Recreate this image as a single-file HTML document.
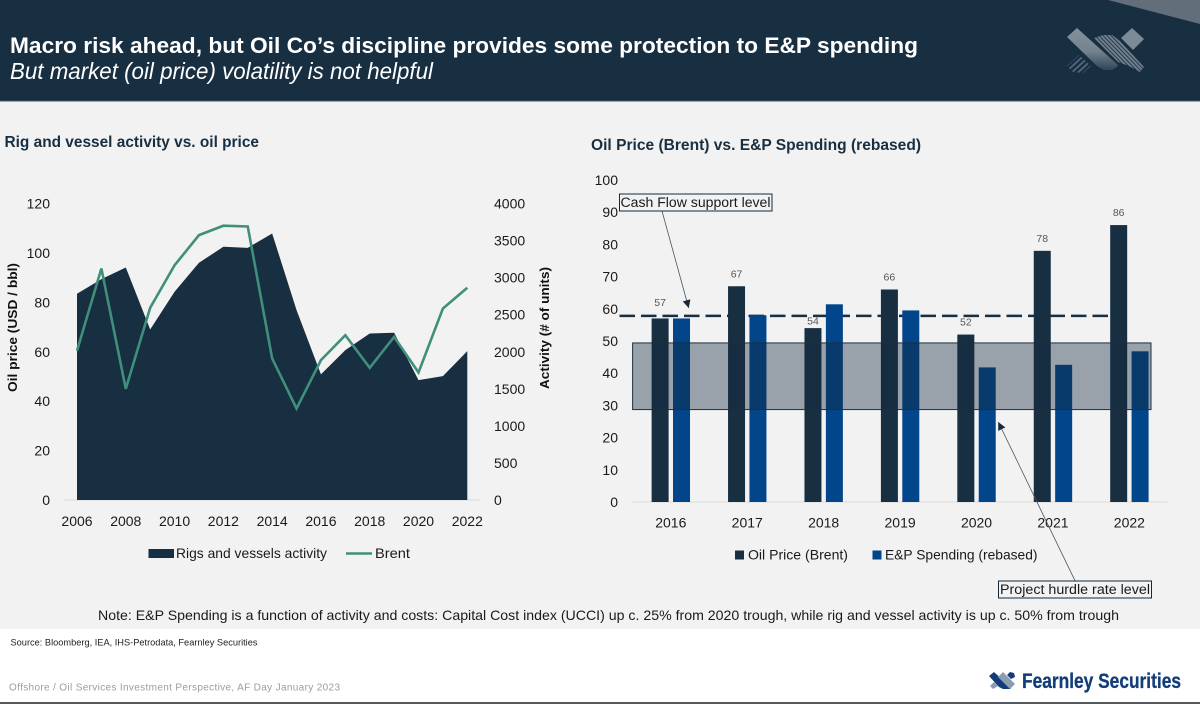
<!DOCTYPE html>
<html lang="en">
<head>
<meta charset="utf-8">
<title>Macro risk ahead</title>
<style>
html,body{margin:0;padding:0;background:#f2f2f2}
body{width:1200px;height:704px;overflow:hidden}
svg{display:block}
text{font-family:"Liberation Sans",sans-serif}
</style>
</head>
<body>
<svg id="slide" xmlns="http://www.w3.org/2000/svg" width="1200" height="704" viewBox="0 0 1200 704">
  <defs>
    <linearGradient id="logoFade" x1="0" y1="0" x2="0" y2="1">
      <stop offset="0" stop-color="#84919c"/>
      <stop offset="0.55" stop-color="#74838f"/>
      <stop offset="1" stop-color="#2f4656"/>
    </linearGradient>
    <marker id="arrowHead" markerWidth="9" markerHeight="9" refX="8" refY="4" orient="auto" markerUnits="userSpaceOnUse">
      <path d="M0,0 L8,4 L0,8 Z" fill="#15293a"/>
    </marker>
    <clipPath id="stripeClip">
      <polygon points="1094,38 1103,35 1112,35 1120,41 1144,67 1140,72 1129,66 1118,62"/>
    </clipPath>
    <clipPath id="lowerStripeClip">
      <polygon points="1067,66 1079,55 1091,66 1083,73 1073,72"/>
    </clipPath>
  </defs>

  <rect x="0" y="0" width="1200" height="704" fill="#f2f2f2"/>
  <rect x="0" y="0" width="1200" height="101" fill="#182e41"/>
  <rect x="0" y="100.5" width="1200" height="1" fill="#4a5864"/>
  <polygon points="1108,0 1200,0 1200,24" fill="#626e7a"/>

  <g>
    <g clip-path="url(#stripeClip)" stroke="#6f7e8a" stroke-width="2.1" fill="none">
      <line x1="1080" y1="22" x2="1132" y2="76"/>
      <line x1="1084" y1="22" x2="1136" y2="76"/>
      <line x1="1088" y1="22" x2="1140" y2="76"/>
      <line x1="1092" y1="22" x2="1144" y2="76"/>
      <line x1="1096" y1="22" x2="1148" y2="76"/>
      <line x1="1100" y1="22" x2="1152" y2="76"/>
      <line x1="1104" y1="22" x2="1156" y2="76"/>
      <line x1="1108" y1="22" x2="1160" y2="76"/>
    </g>
    <polygon points="1077,28 1067,37 1097,66 1104,70 1112,70 1117,67 1118,65" fill="url(#logoFade)"/>
    <polygon points="1132,28 1144,39 1133,50 1121,38" fill="#7c8a96"/>
    <g clip-path="url(#lowerStripeClip)" stroke="#56697a" stroke-width="1.8" fill="none">
      <line x1="1060" y1="66" x2="1084" y2="44"/>
      <line x1="1063" y1="69" x2="1087" y2="47"/>
      <line x1="1066" y1="72" x2="1090" y2="50"/>
      <line x1="1069" y1="75" x2="1093" y2="53"/>
      <line x1="1072" y1="78" x2="1096" y2="56"/>
      <line x1="1075" y1="81" x2="1099" y2="59"/>
    </g>
  </g>

  <text x="10" y="53" font-size="22" font-weight="700" fill="#ffffff" textLength="908" lengthAdjust="spacingAndGlyphs">Macro risk ahead, but Oil Co’s discipline provides some protection to E&amp;P spending</text>
  <text x="10" y="79" font-size="23" font-style="italic" fill="#ffffff" textLength="423" lengthAdjust="spacingAndGlyphs">But market (oil price) volatility is not helpful</text>

  <text x="4.5" y="147" font-size="16" font-weight="700" fill="#182e41" textLength="254.5" lengthAdjust="spacingAndGlyphs">Rig and vessel activity vs. oil price</text>
  <text x="591" y="150" font-size="16" font-weight="700" fill="#182e41" textLength="330" lengthAdjust="spacingAndGlyphs">Oil Price (Brent) vs. E&amp;P Spending (rebased)</text>

  <g id="left-chart"></g>
  <g id="right-chart"></g>

  <text transform="translate(17,392) rotate(-90)" font-size="12.5" font-weight="700" fill="#111" textLength="129" lengthAdjust="spacingAndGlyphs">Oil price (USD / bbl)</text>
  <text transform="translate(549,389) rotate(-90)" font-size="12.5" font-weight="700" fill="#111" textLength="122" lengthAdjust="spacingAndGlyphs">Activity (# of units)</text>

  <g>
    <rect x="148.5" y="549" width="25.5" height="9" fill="#182e41"/>
    <text x="176" y="558" font-size="14" fill="#1a1a1a" textLength="151" lengthAdjust="spacingAndGlyphs">Rigs and vessels activity</text>
    <line x1="346" y1="553.5" x2="372" y2="553.5" stroke="#3f8f7b" stroke-width="2.5"/>
    <text x="375" y="558" font-size="14" fill="#1a1a1a" textLength="35" lengthAdjust="spacingAndGlyphs">Brent</text>
  </g>

  <g>
    <rect x="735" y="550.5" width="9" height="9" fill="#182e41"/>
    <text x="748" y="559.5" font-size="14" fill="#1a1a1a" textLength="100" lengthAdjust="spacingAndGlyphs">Oil Price (Brent)</text>
    <rect x="872.5" y="550.5" width="9" height="9" fill="#03458b"/>
    <text x="885" y="559.5" font-size="14" fill="#1a1a1a" textLength="152.5" lengthAdjust="spacingAndGlyphs">E&amp;P Spending (rebased)</text>
  </g>

  <line x1="662" y1="211" x2="688.7" y2="308" stroke="#4a5560" stroke-width="0.8" marker-end="url(#arrowHead)"/>
  <rect x="619.5" y="194" width="152.5" height="17" fill="#f2f2f2" stroke="#15293a" stroke-width="1"/>
  <text x="620.5" y="207" font-size="13.5" fill="#1a1a1a" textLength="150" lengthAdjust="spacingAndGlyphs">Cash Flow support level</text>

  <line x1="1075" y1="580.7" x2="998.3" y2="422" stroke="#4a5560" stroke-width="0.8" marker-end="url(#arrowHead)"/>
  <rect x="998.5" y="581" width="153" height="17" fill="#f2f2f2" stroke="#15293a" stroke-width="1"/>
  <text x="1000" y="594" font-size="13.5" fill="#1a1a1a" textLength="150" lengthAdjust="spacingAndGlyphs">Project hurdle rate level</text>

  <text x="98" y="620" font-size="14" fill="#1a1a1a" textLength="1021" lengthAdjust="spacingAndGlyphs">Note: E&amp;P Spending is a function of activity and costs: Capital Cost index (UCCI) up c. 25% from 2020 trough, while rig and vessel activity is up c. 50% from trough</text>

  <rect x="0" y="629" width="1200" height="75" fill="#ffffff"/>
  <text x="10.5" y="645.5" font-size="9.5" fill="#222" textLength="247" lengthAdjust="spacingAndGlyphs">Source: Bloomberg, IEA, IHS-Petrodata, Fearnley Securities</text>
  <text x="9" y="690.5" font-size="10" fill="#9c9c9c" textLength="331" lengthAdjust="spacing">Offshore / Oil Services Investment Perspective, AF Day January 2023</text>

  <g>
    <polygon points="989,676 994,672 1006,683 1011,689 1003,689 999,687" fill="#123d79"/>
    <polygon points="1003,672 1015,684 1010,689 998,677" fill="#8b9db0"/>
    <polygon points="1010,672 1014,673 1015,677 1011,679 1007,675" fill="#123d79"/>
    <polygon points="990,686 994,682 998,686 993,689" fill="#8b9db0"/>
    <text x="1022" y="688" font-size="21" font-weight="700" fill="#123d79" stroke="#123d79" stroke-width="0.3" textLength="159" lengthAdjust="spacingAndGlyphs">Fearnley Securities</text>
  </g>
  <rect x="0" y="702" width="1200" height="2" fill="#555a5f"/>
</svg>

<script>
var years = [2006,2007,2008,2009,2010,2011,2012,2013,2014,2015,2016,2017,2018,2019,2020,2021,2022];
var activityUnits = [2782,2980,3137,2301,2809,3200,3416,3402,3596,2562,1694,2022,2247,2256,1618,1672,2009];
var brentPrice = [60.4,93.7,45,77.8,95,107.2,111,110.7,57.3,37,56.6,66.7,53.5,66,51.6,77.5,85.9];
var leftPriceTicks = [0,20,40,60,80,100,120];
var leftActivityTicks = [0,500,1000,1500,2000,2500,3000,3500,4000];
var leftYearLabels = [2006,2008,2010,2012,2014,2016,2018,2020,2022];

var barYears = [2016,2017,2018,2019,2020,2021,2022];
var oilPriceBars = [57,67,54,66,52,78,86];
var spendingBars = [57,58,61.4,59.5,41.8,42.6,46.8];
var rightTicks = [0,10,20,30,40,50,60,70,80,90,100];
var cashFlowLevel = [57.8];
var hurdleBand = [28.7,49.4];

var SVGNS = 'http://www.w3.org/2000/svg';
function make(parent, tag, attrs, txt) {
  var el = document.createElementNS(SVGNS, tag);
  for (var k in attrs) { el.setAttribute(k, attrs[k]); }
  if (txt !== undefined) { el.textContent = txt; }
  parent.appendChild(el);
  return el;
}

/* ---------- left chart ---------- */
var L = document.getElementById('left-chart');
function lx(year) { return 77 + (year - 2006) * (467.3 - 77) / 16; }
function lyPrice(v) { return 500 - v * (296.5 / 120); }
function lyActivity(v) { return 500 - v * (296.5 / 4000); }

var baseLeft = make(L, 'line', {x1: 64, x2: 480, y1: 500, y2: 500, stroke: '#d9d9d9', 'stroke-width': 1});



var areaPts = [lx(years[0]) + ',' + lyActivity(0)];
years.forEach(function (y, i) { areaPts.push(lx(y) + ',' + lyActivity(activityUnits[i])); });
areaPts.push(lx(years[years.length - 1]) + ',' + lyActivity(0));
var area = make(L, 'polygon', {points: areaPts.join(' '), fill: '#182e41'});



var linePts = years.map(function (y, i) { return lx(y) + ',' + lyPrice(brentPrice[i]); });
var brent = make(L, 'polyline', {points: linePts.join(' '), fill: 'none', stroke: '#3f8f7b', 'stroke-width': 2.6, 'stroke-linejoin': 'miter'});



leftPriceTicks.forEach(function (t) {
  var el = make(L, 'text', {x: 50, y: lyPrice(t) + 5, 'font-size': 14, 'text-anchor': 'end', fill: '#1a1a1a'}, t);
  
  
});
leftActivityTicks.forEach(function (t) {
  var el = make(L, 'text', {x: 494, y: lyActivity(t) + 5, 'font-size': 14, fill: '#1a1a1a'}, t);
  
  
});
leftYearLabels.forEach(function (t) {
  var el = make(L, 'text', {x: lx(t), y: 526, 'font-size': 14, 'text-anchor': 'middle', fill: '#1a1a1a'}, t);
  
  
});

/* ---------- right chart ---------- */
var R = document.getElementById('right-chart');
var catW = (1167.6 - 632.6) / barYears.length;
var barW = 17;
var barGap = 4.4;
function rc(i) { return 632.6 + catW * (i + 0.5); }
function ry(v) { return 502 - v * 3.22; }

var baseRight = make(R, 'line', {x1: 632.6, x2: 1167.6, y1: 502, y2: 502, stroke: '#d9d9d9', 'stroke-width': 1});



var dash = make(R, 'line', {x1: 619.5, x2: 1108, y1: ry(cashFlowLevel[0]), y2: ry(cashFlowLevel[0]), stroke: '#182e41', 'stroke-width': 2.4, 'stroke-dasharray': '15.5 6'});



barYears.forEach(function (yr, i) {
  var c = rc(i);
  var d = make(R, 'rect', {x: c - barGap / 2 - barW, y: ry(oilPriceBars[i]), width: barW, height: 502 - ry(oilPriceBars[i]), fill: '#182e41'});
  
  
  var b = make(R, 'rect', {x: c + barGap / 2, y: ry(spendingBars[i]), width: barW, height: 502 - ry(spendingBars[i]), fill: '#03458b'});
  
  
  /* value labels sit 9px above their bar; the 2016 and 2018 labels were moved by hand in the original */
  var labelGap = i === 0 ? 12.5 : (i === 2 ? 3.5 : 9);
  var v = make(R, 'text', {x: c - barGap / 2 - barW / 2, y: ry(oilPriceBars[i]) - labelGap, 'font-size': 10.5, 'text-anchor': 'middle', fill: '#555'}, oilPriceBars[i]);
  
  
  var l = make(R, 'text', {x: c, y: 527.7, 'font-size': 14, 'text-anchor': 'middle', fill: '#1a1a1a'}, yr);
  
  
});

var band = make(R, 'rect', {x: 632.6, y: ry(hurdleBand[1]), width: 518.4, height: ry(hurdleBand[0]) - ry(hurdleBand[1]), fill: 'rgba(20,42,62,0.4)', stroke: '#1c3040', 'stroke-width': 1});



rightTicks.forEach(function (t) {
  var el = make(R, 'text', {x: 618, y: ry(t) + 5, 'font-size': 14, 'text-anchor': 'end', fill: '#1a1a1a'}, t);
  
  
});
</script>
</body>
</html>
